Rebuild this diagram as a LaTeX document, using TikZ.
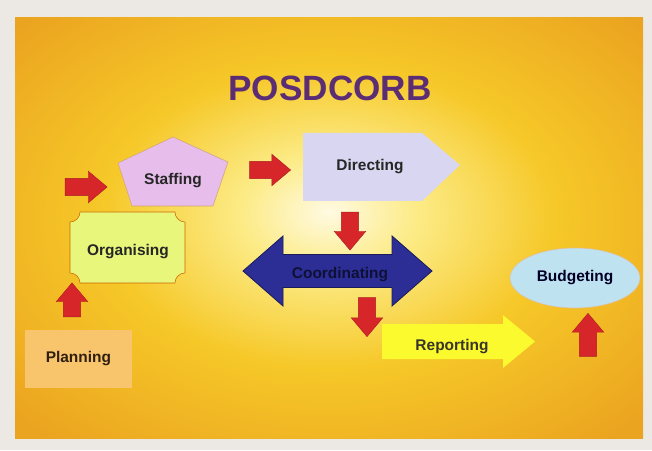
\documentclass[tikz,border=0pt]{standalone}
\usepackage{fontspec}
\setmainfont{Liberation Sans}
\usetikzlibrary{positioning,shapes.geometric,shapes.arrows}

\definecolor{slideedge}{HTML}{EBA420}
\definecolor{slidemid}{HTML}{F6C828}
\definecolor{slidelight}{HTML}{FCEB86}
\definecolor{slideglow}{HTML}{FFFAE2}
\definecolor{framegray}{HTML}{ECE9E4}
\definecolor{arrowred}{HTML}{D7262A}
\definecolor{titlepurple}{HTML}{5B2D74}
\definecolor{staffpink}{HTML}{E6BDEB}
\definecolor{dirlilac}{HTML}{D8D6F0}
\definecolor{coordblue}{HTML}{2C2E96}
\definecolor{repyellow}{HTML}{FAFA2E}
\definecolor{budblue}{HTML}{BEE2F0}
\definecolor{orglime}{HTML}{E8F67C}
\definecolor{planorange}{HTML}{F8C46C}

\pgfdeclareradialshading{slidebg}{\pgfpoint{0bp}{2bp}}{color(0bp)=(slideglow); color(7bp)=(slidelight); color(18bp)=(slidemid); color(34bp)=(slideedge); color(50bp)=(slideedge)}

\begin{document}
\begin{tikzpicture}[font=\bfseries\fontsize{11}{13}\selectfont]
    \tikzstyle{title} = [font=\bfseries\fontsize{25}{25}\selectfont, text=titlepurple]
    \tikzstyle{label} = [inner sep=0pt, text=black!85]
    \tikzstyle{redarrow} = [single arrow, fill=arrowred, draw=arrowred!80!black,
    line width=0.3pt, minimum width=0.78cm, single arrow head extend=0.18cm,
    single arrow tip angle=80, inner sep=0.21cm]
    \useasboundingbox (0,0) rectangle (16.3,11.25);
    \fill [framegray] (0,0) rectangle (16.3,11.25);
    \shade [shading=slidebg] (0.375,0.3) rectangle (16.075,10.8);
    % title
    \node [title] (title) at (8.25,9.05) {POSDCORB};
    % the seven boxes
    \node [rectangle, fill=planorange, minimum width=2.675cm, minimum height=1.45cm,
    text=black!75!brown] (plan) at (1.96,2.275) {Planning};
    \filldraw [fill=orglime, draw=orange!80!black, line width=0.4pt]
    (2.0,5.95) -- (4.375,5.95) arc[start angle=180, end angle=270, radius=0.25]
    -- (4.625,4.425) arc[start angle=90, end angle=180, radius=0.25]
    -- (2.0,4.175) arc[start angle=0, end angle=90, radius=0.25]
    -- (1.75,5.7) arc[start angle=270, end angle=360, radius=0.25] -- cycle;
    \node [label] (org) at (3.2,4.95) {Organising};
    \filldraw [fill=staffpink, draw=brown!70, line width=0.4pt]
    (4.325,7.825) -- (2.95,7.175) -- (3.3,6.1) -- (5.325,6.1) -- (5.7,7.2) -- cycle;
    \node [label] (staff) at (4.325,6.725) {Staffing};
    \fill [dirlilac] (7.575,7.925) -- (10.55,7.925) -- (11.5,7.125)
    -- (10.55,6.225) -- (7.575,6.225) -- cycle;
    \node [label] (dir) at (9.25,7.075) {Directing};
    \filldraw [fill=coordblue, draw=coordblue!60!black, line width=0.6pt]
    (6.075,4.475) -- (7.075,5.35) -- (7.075,4.8875) -- (9.8,4.8875) -- (9.8,5.35)
    -- (10.8,4.475) -- (9.8,3.6) -- (9.8,4.0625) -- (7.075,4.0625) -- (7.075,3.6) -- cycle;
    \node [label, text=coordblue!35!black] (coord) at (8.5,4.375) {Coordinating};
    \fill [repyellow] (9.55,3.15) -- (12.575,3.15) -- (12.575,3.375) -- (13.375,2.7125)
    -- (12.575,2.05) -- (12.575,2.275) -- (9.55,2.275) -- cycle;
    \node [label, text=black!80!olive] (rep) at (11.3,2.575) {Reporting};
    \node [ellipse, fill=budblue, draw=brown!50, line width=0.4pt, minimum width=3.25cm,
    minimum height=1.5cm, inner sep=0pt, text=black!85!blue] (bud) at (14.375,4.3) {Budgeting};
    % red block arrows between the boxes
    \node [redarrow, shape border rotate=90, minimum height=0.85cm] (plan2org) at (1.8,3.625) {};
    \node [redarrow, minimum height=1.05cm] (org2staff) at (2.025,6.575) {};
    \node [redarrow, minimum height=1.025cm] (staff2dir) at (6.625,7.0) {};
    \node [redarrow, shape border rotate=270, minimum height=0.95cm] (dir2coord) at (8.75,5.6) {};
    \node [redarrow, shape border rotate=270, minimum height=0.975cm] (coord2rep) at (9.175,3.45) {};
    \node [redarrow, shape border rotate=90, minimum height=1.075cm] (rep2bud) at (14.7,2.75) {};
\end{tikzpicture}
\end{document}
